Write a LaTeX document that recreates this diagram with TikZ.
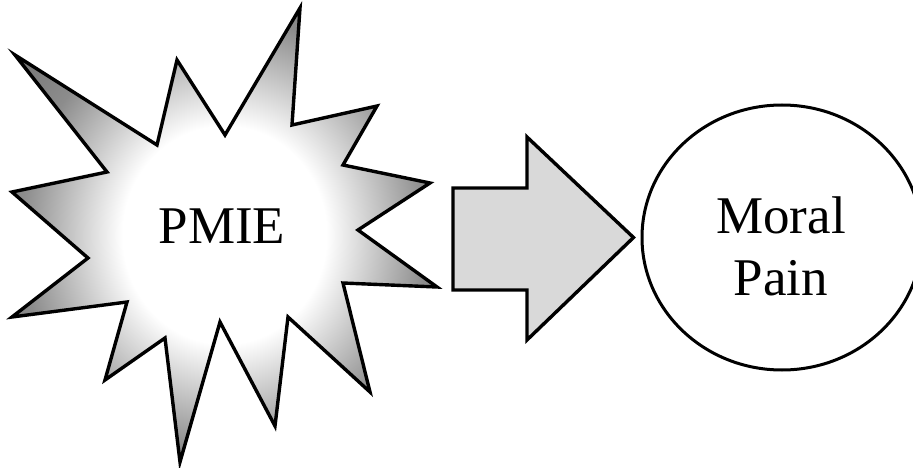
\documentclass[tikz,border=0pt]{standalone}
\usepackage{fontspec}
\setmainfont{Liberation Serif}
\usetikzlibrary{shapes,positioning,calc}
\pgfdeclareradialshading{burstshade}{\pgfpoint{0bp}{0bp}}{color(0bp)=(white); color(12bp)=(white); color(24bp)=(black!45); color(38bp)=(black!62); color(50bp)=(black!66)}

\begin{document}
\begin{tikzpicture}[x=1pt, y=-1pt,
  burst/.style={draw, line width=3.4pt, line join=miter, shading=burstshade},
  blockarr/.style={draw, line width=3.4pt, line join=miter, fill=black!15},
  painnode/.style={draw, ellipse, line width=3pt, minimum width=280pt,
               minimum height=265pt, inner sep=0pt},
  lbl/.style={font=\fontsize{53}{62}\selectfont, align=center, inner sep=0pt}
]
\useasboundingbox (0,0) rectangle (913,468);

\path[burst] (300,8) -- (292,125) -- (377,106) -- (343,165) -- (430,183)
  -- (358,230) -- (437,287) -- (343,283) -- (370,392) -- (288,317)
  -- (275,426) -- (220,322) -- (180,462) -- (165,338) -- (105,380)
  -- (127,302) -- (12,317) -- (88,258) -- (12,192) -- (107,172)
  -- (15,55) -- (157,145) -- (177,60) -- (225,135) -- cycle;
\node[lbl, anchor=base] (pmie) at (222,243) {PMIE};

\node[painnode] (pain) at (782,237.5) {};
\node[lbl, anchor=base] (moral) at (781,233) {Moral};
\node[lbl, anchor=base] (paintxt) at (781,295) {Pain};

\draw[blockarr] (453,188) -- (527,188) -- (527,137) -- ($(pain.west)+(-7,0)$)
  -- (527,340) -- (527,290) -- (453,290) -- cycle;

\end{tikzpicture}
\end{document}
